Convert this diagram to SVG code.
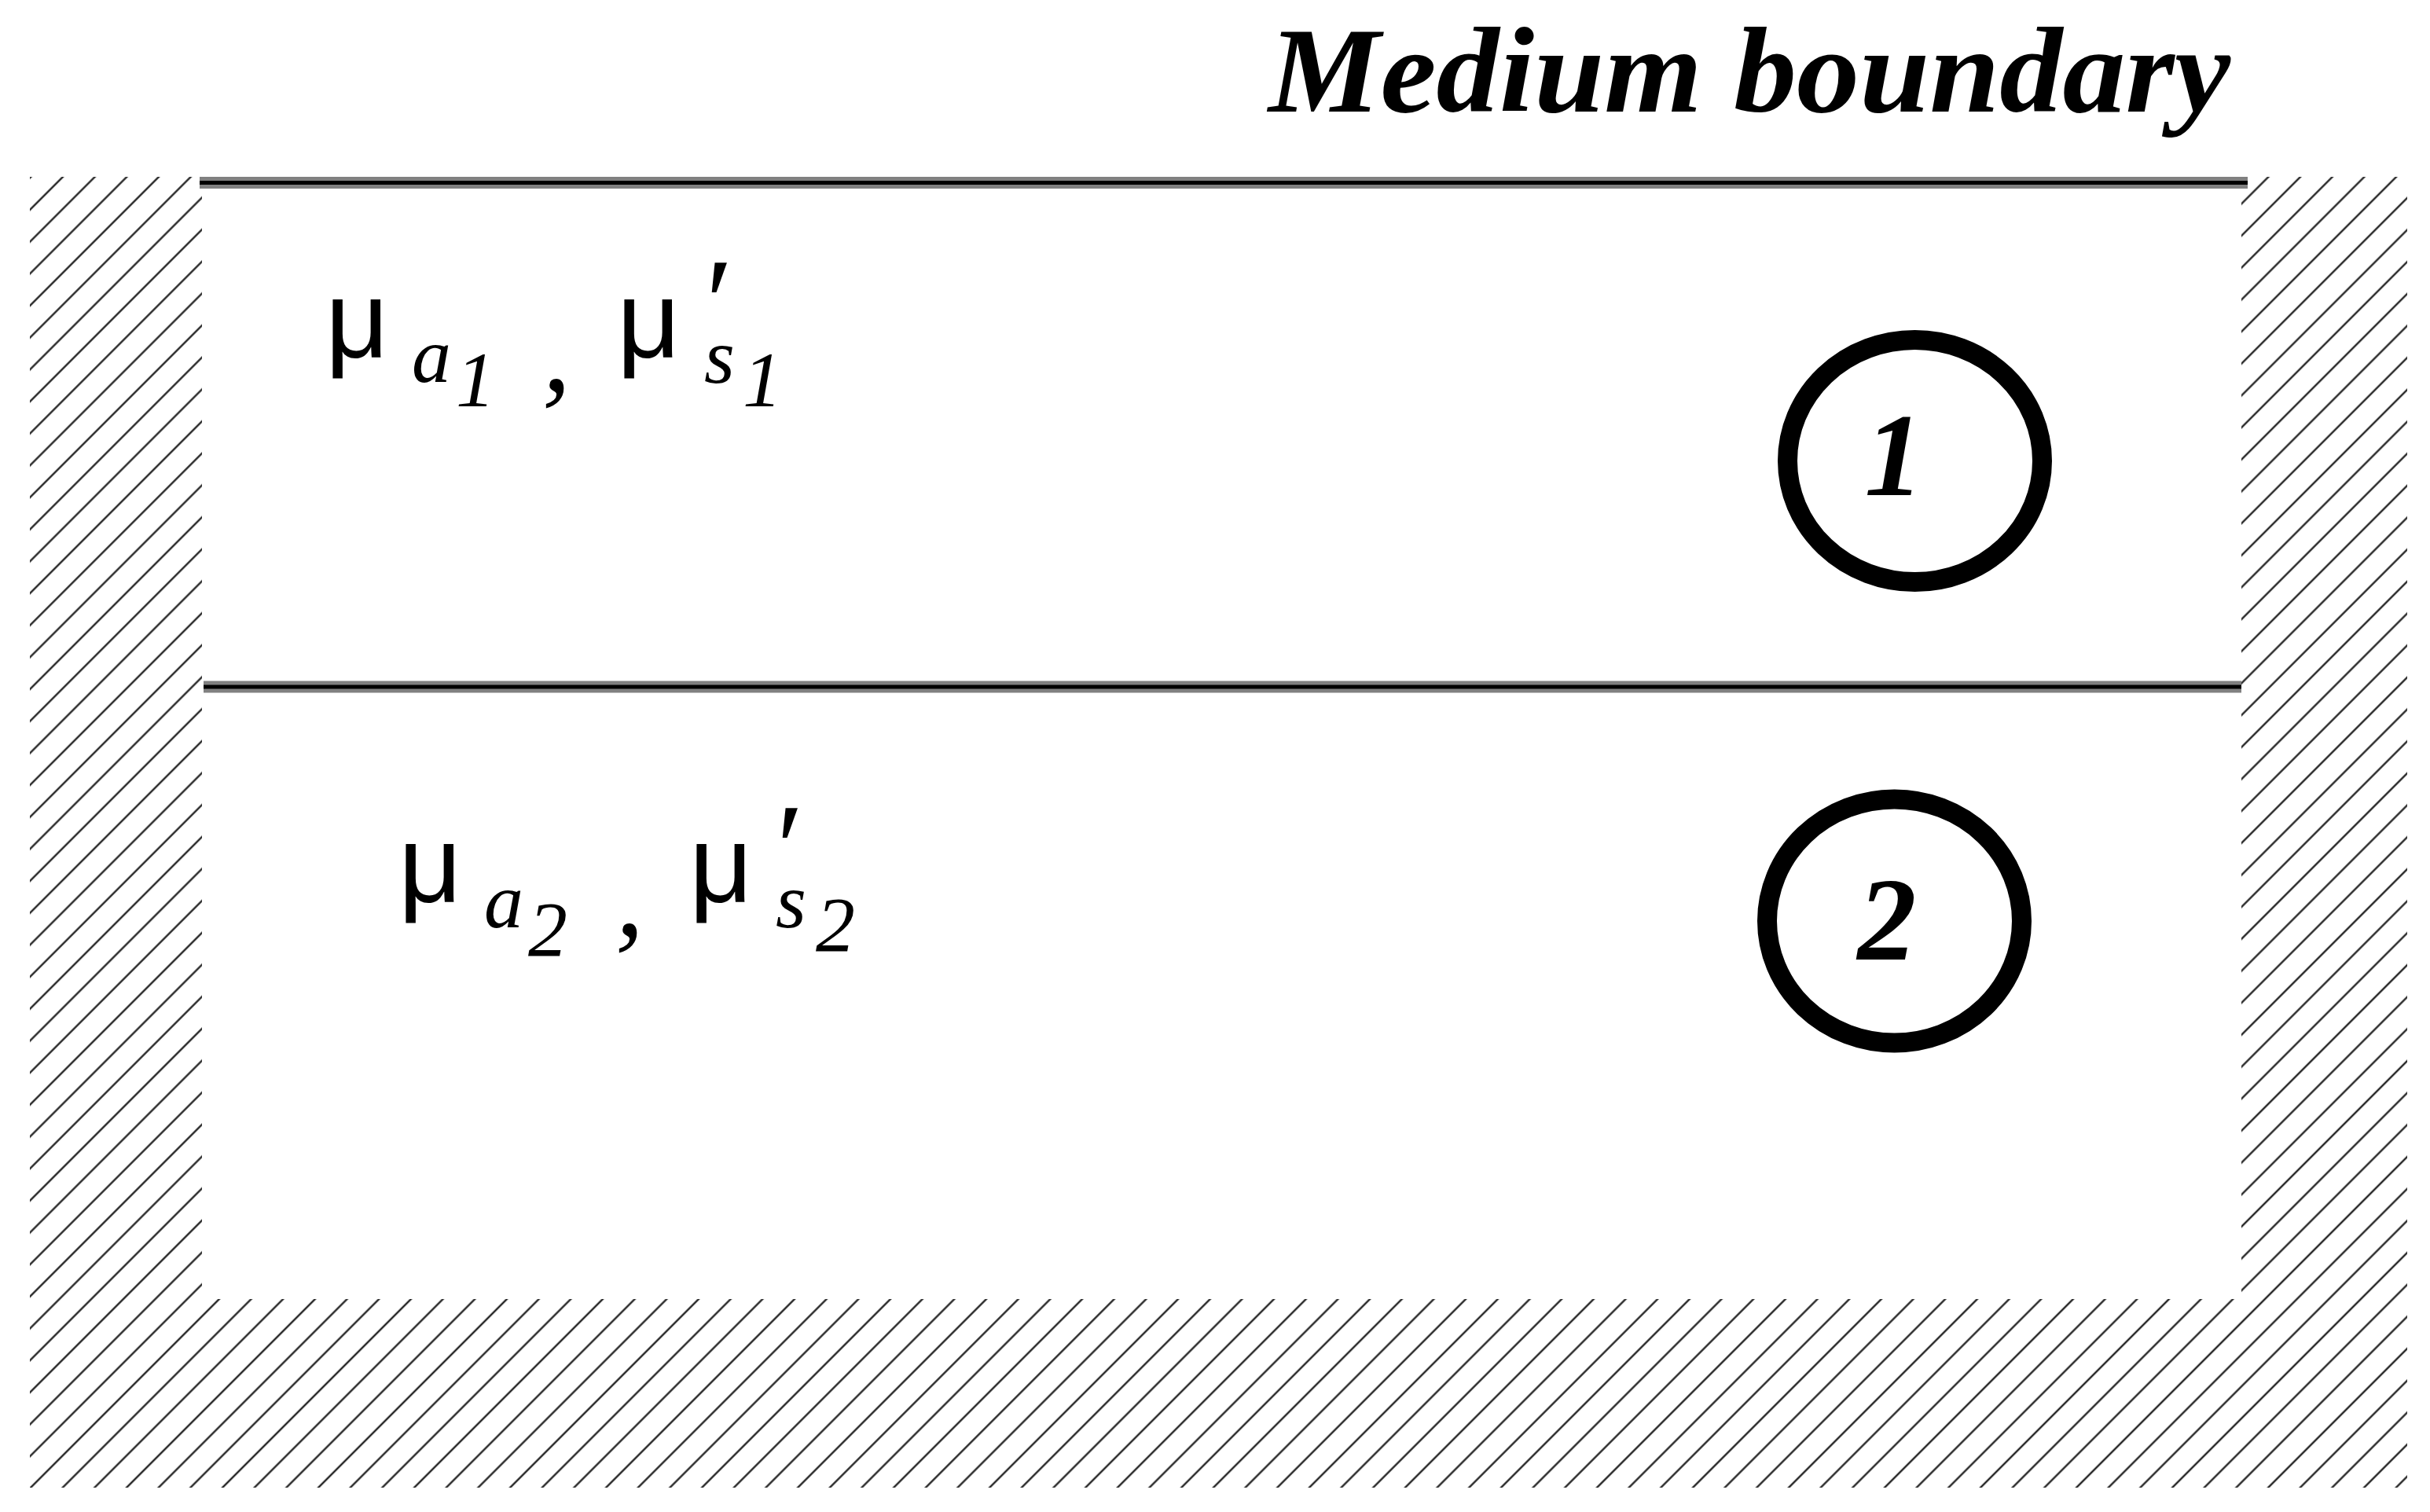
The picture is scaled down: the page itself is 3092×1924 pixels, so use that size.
<svg xmlns="http://www.w3.org/2000/svg" width="3092" height="1924" viewBox="0 0 3092 1924">
<style>
.ser{font-family:"Liberation Serif","DejaVu Serif",serif;fill:#000}
.it{font-style:italic}
.bd{font-weight:bold}
.sans{font-family:"Liberation Sans","DejaVu Sans",sans-serif;fill:#000}
.ring{fill:none;stroke:#000;stroke-width:25}
.bl{stroke:#808080;stroke-width:15}
.bk{stroke:#000;stroke-width:5}
</style>
<defs>
<pattern id="hatch" patternUnits="userSpaceOnUse" width="28.76" height="28.76" patternTransform="rotate(45)">
<line x1="14.38" y1="-1" x2="14.38" y2="30" stroke="#111" stroke-width="2.2"/>
</pattern>
</defs>
<rect width="3092" height="1924" fill="#fff"/>
<g id="walls">
<rect x="38" y="225" width="3025" height="1668" fill="url(#hatch)"/>
<rect x="257" y="225" width="2595" height="1428" fill="#fff"/>
</g>
<g id="boundaries">
<line class="bl" x1="254" y1="232.5" x2="2860" y2="232.5"/>
<line class="bk" x1="254" y1="232.5" x2="2860" y2="232.5"/>
<line class="bl" x1="259" y1="874" x2="2852" y2="874"/>
<line class="bk" x1="259" y1="874" x2="2852" y2="874"/>
</g>
<g id="title">
<text class="ser it bd" x="1614" y="142" font-size="154" textLength="1224" lengthAdjust="spacingAndGlyphs">Medium boundary</text>
</g>
<g id="label1">
<text class="sans" x="414" y="455" font-size="140">μ</text>
<text class="ser it" x="524" y="486" font-size="100">a</text>
<text class="ser it" x="580" y="517" font-size="100">1</text>
<text class="ser it" x="690" y="497" font-size="146">,</text>
<text class="sans" x="785" y="455" font-size="140">μ</text>
<text class="ser it" x="888" y="440" font-size="160">′</text>
<text class="ser it" x="896" y="487" font-size="100">s</text>
<text class="ser it" x="945" y="517" font-size="100">1</text>
</g>
<g id="label2">
<text class="sans" x="507" y="1148" font-size="140">μ</text>
<text class="ser it" x="616" y="1180" font-size="100">a</text>
<text class="ser it" x="672" y="1216" font-size="100">2</text>
<text class="ser it" x="783" y="1190" font-size="146">,</text>
<text class="sans" x="877" y="1148" font-size="140">μ</text>
<text class="ser it" x="978" y="1134" font-size="160">′</text>
<text class="ser it" x="987" y="1180" font-size="100">s</text>
<text class="ser it" x="1038" y="1210" font-size="100">2</text>
</g>
<g id="circle1">
<ellipse class="ring" cx="2436.5" cy="586.5" rx="162" ry="154"/>
<text class="ser it bd" x="2410" y="630" font-size="150" text-anchor="middle">1</text>
</g>
<g id="circle2">
<ellipse class="ring" cx="2410.5" cy="1172" rx="162" ry="155"/>
<text class="ser it bd" x="2401" y="1221" font-size="150" text-anchor="middle">2</text>
</g>
</svg>
